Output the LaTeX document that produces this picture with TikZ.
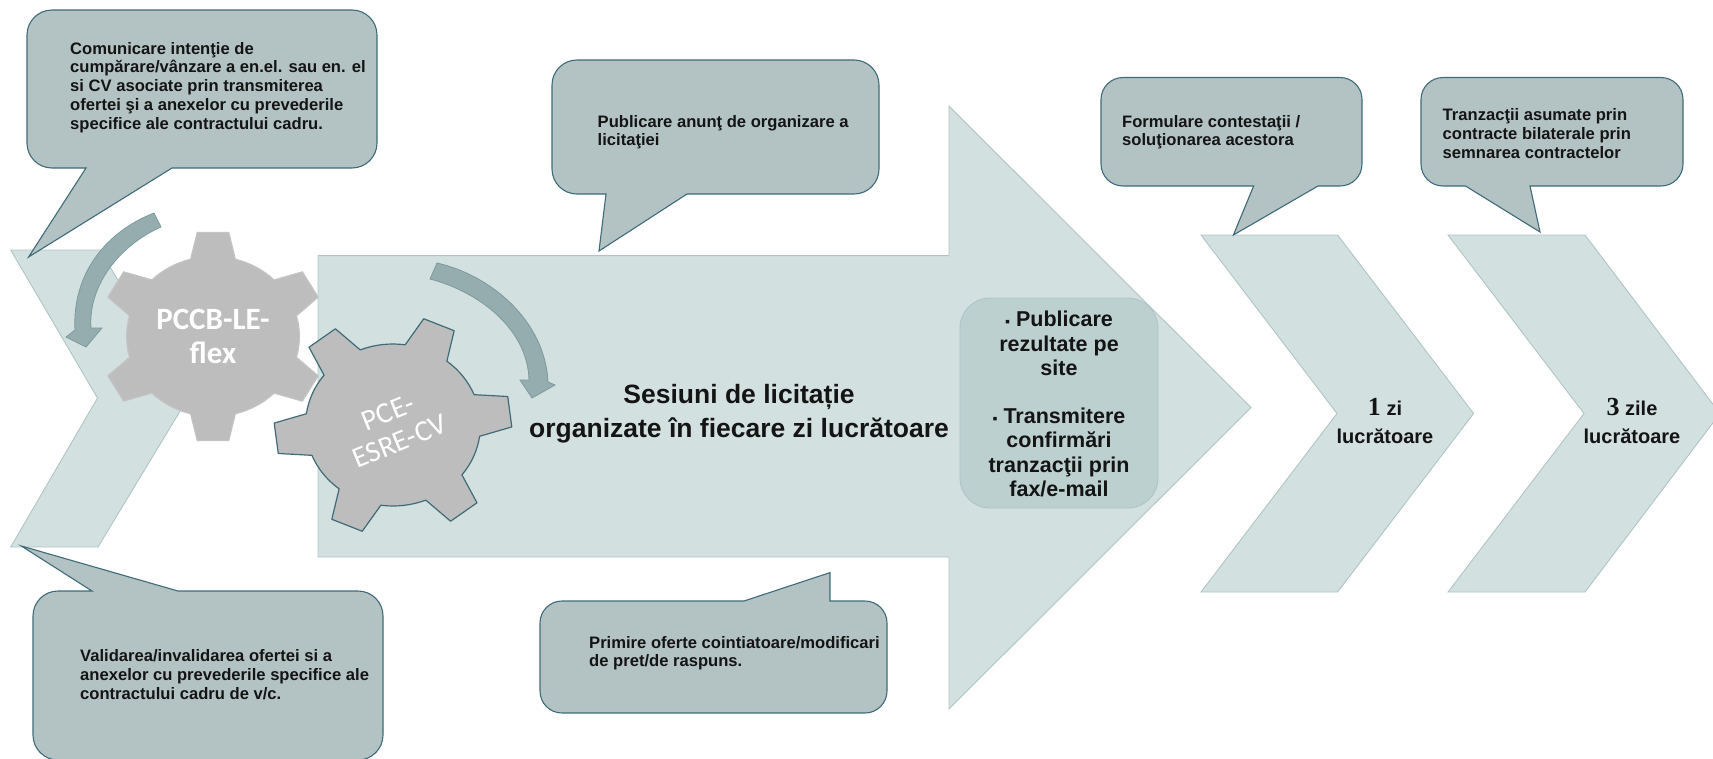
\documentclass[tikz,border=0pt]{standalone}
\usepackage{fontspec}
\setmainfont{Liberation Sans}
\newfontfamily\gearfont{Carlito}
\newfontfamily\numfont{Liberation Serif}
\definecolor{pale}{HTML}{D3E0E0}
\definecolor{paleline}{HTML}{AFC5C5}
\definecolor{bubble}{HTML}{B3C3C4}
\definecolor{bubbleline}{HTML}{3F6B78}
\definecolor{inner}{HTML}{BCD0D0}
\definecolor{gearfill}{HTML}{BDBDBD}
\definecolor{turn}{HTML}{95ADAF}
\definecolor{turnline}{HTML}{7C9A9E}
\definecolor{ink}{HTML}{141414}
\tikzset{
  paleshape/.style={fill=pale,draw=paleline,line width=0.9pt,line join=miter},
  bubbleshape/.style={fill=bubble,draw=bubbleline,line width=1.1pt},
  bubbletext/.style={anchor=north west,inner sep=0pt,align=left,text=ink,font=\fontsize{16.6}{18.7}\selectfont\bfseries},
  turnshape/.style={fill=turn,draw=turnline,line width=0.8pt},
  daytext/.style={inner sep=0pt,align=center,text=ink,font=\fontsize{20}{20}\selectfont\bfseries},
  geartext/.style={inner sep=0pt,align=center,text=white},
}
\newcommand{\gearpath}[6]{% cx cy outer R inner r rotation draw colour
  \begin{scope}[shift={(#1,#2)},xscale=1.08]
    \path[fill=gearfill,draw=#6,line width=1.2pt,line join=round]
      (#5-8:#3)
      foreach \a in {0,60,120,180,240,300} {
        -- (#5+\a-8:#3) -- (#5+\a+8:#3) -- (#5+\a+15:#4)
        arc[start angle=#5+\a+15,end angle=#5+\a+45,radius=#4]
      } -- cycle;
  \end{scope}}
\begin{document}
\begin{tikzpicture}[x=1pt,y=-1pt]
\useasboundingbox (0,0) rectangle (1713,758);
% pale shapes
\draw[paleshape] (10.7,250) -- (100,250) -- (188,398) -- (98,547) -- (10.7,547) -- (97.5,398) -- cycle;
\draw[paleshape] (318,255.6) -- (949,255.6) -- (949,106) -- (1251,407.5) -- (949,709) -- (949,557) -- (318,557) -- cycle;
\draw[paleshape] (1201,235) -- (1337.6,235) -- (1473.6,413.5) -- (1337.6,592) -- (1201,592) -- (1337,413.5) -- cycle;
\draw[paleshape] (1448,235) -- (1585,235) -- (1720,413.5) -- (1585,592) -- (1448,592) -- (1584,413.5) -- cycle;
% bubbles
\draw[bubbleshape,rounded corners=25pt] (172,168) -- (377,168) -- (377,10) -- (27,10) -- (27,168) [sharp corners] -- (86,168) -- (28.6,257) -- cycle;
\draw[bubbleshape,rounded corners=25pt] (178,591) -- (383,591) -- (383,760) -- (33,760) -- (33,591) [sharp corners] -- (92,591) -- (21.4,546) -- cycle;
\draw[bubbleshape,rounded corners=25pt] (687,194) -- (879,194) -- (879,60) -- (552,60) -- (552,194) [sharp corners] -- (606,194) -- (599,251) -- cycle;
\draw[bubbleshape,rounded corners=22pt] (830,601) -- (887,601) -- (887,713) -- (540,713) -- (540,601) [sharp corners] -- (744,601) -- (830,572.6) -- cycle;
\draw[bubbleshape,rounded corners=22pt] (1318,186) -- (1362,186) -- (1362,77.5) -- (1101,77.5) -- (1101,186) [sharp corners] -- (1253.6,186) -- (1233.4,235) -- cycle;
\draw[bubbleshape,rounded corners=22pt] (1530,186) -- (1683,186) -- (1683,77.5) -- (1421,77.5) -- (1421,186) [sharp corners] -- (1465.5,186) -- (1540,232) -- cycle;
% inner results box
\draw[fill=inner,draw=paleline,line width=0.9pt,rounded corners=30pt] (960,298) rectangle (1158,508);
% gears
\gearpath{213}{336.5}{105}{80}{-90}{gearfill!90!white}
\gearpath{393}{425}{110}{81}{-7}{bubbleline}
% turn arrows
\draw[turnshape] (154,213) .. controls (105,232) and (72,275) .. (75,330) -- (66,337) -- (86,347) -- (102,328) -- (91,328) .. controls (88,285) and (120,245) .. (161,227) -- cycle;
\draw[turnshape] (437,263) .. controls (490,275) and (545,320) .. (548,382) -- (555,385) -- (532,398) -- (520,380) -- (529,380) .. controls (528,330) and (480,292) .. (430,279) -- cycle;
% texts
\node[bubbletext] (t1) at (70,42) {Comunicare intenţie de\\cumpărare/vânzare a en.el. sau en. el\\si CV asociate prin transmiterea\\ofertei şi a anexelor cu prevederile\\specifice ale contractului cadru.};
\node[bubbletext] (t2) at (80,649.5) {Validarea/invalidarea ofertei si a\\anexelor cu prevederile specifice ale\\contractului cadru de v/c.};
\node[bubbletext] (t3) at (597.5,115) {Publicare anunţ de organizare a\\licitaţiei};
\node[bubbletext] (t4) at (589,636) {Primire oferte cointiatoare/modificari\\de pret/de raspuns.};
\node[bubbletext] (t5) at (1122,115) {Formulare contestaţii /\\soluţionarea acestora};
\node[bubbletext] (t6) at (1442.5,108.5) {Tranzacţii asumate prin\\contracte bilaterale prin\\semnarea contractelor};
\node[geartext,font=\gearfont\fontsize{31}{34}\selectfont\bfseries] (g1) at (213,336) {PCCB-LE-\\flex};
\node[geartext,rotate=22,font=\gearfont\fontsize{29.5}{31}\selectfont] (g2) at (394,427) {PCE-\\ESRE-CV};
\node[inner sep=0pt,align=center,text=ink,font=\fontsize{26.5}{34.5}\selectfont\bfseries] (main) at (739,413.5) {Sesiuni de licitație\\organizate în fiecare zi lucrătoare};
\node[inner sep=0pt,align=center,text=ink,font=\fontsize{21.5}{24.2}\selectfont\bfseries] (res) at (1059,404) {{\fontsize{14}{14}\selectfont ▪} Publicare\\rezultate pe\\site\\[0pt]\mbox{}\\{\fontsize{14}{14}\selectfont ▪} Transmitere\\confirmări\\tranzacţii prin\\fax/e-mail};
\node[daytext] (d1) at (1385,421) {{\numfont\fontsize{26}{20}\selectfont 1} zi\\[8pt]lucrătoare};
\node[daytext] (d2) at (1632,421) {{\numfont\fontsize{26}{20}\selectfont 3} zile\\[8pt]lucrătoare};
\end{tikzpicture}
\end{document}
